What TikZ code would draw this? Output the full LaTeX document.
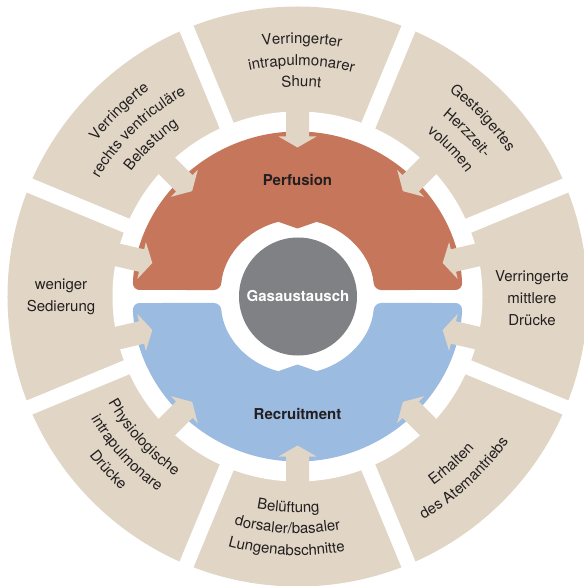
\documentclass[tikz,border=0pt]{standalone}
\usepackage{fontspec}
\setmainfont{TeX Gyre Heros}
\usetikzlibrary{decorations.text}
\definecolor{ringBeige}{RGB}{225,214,197}
\definecolor{perfRed}{RGB}{198,118,90}
\definecolor{recruitBlue}{RGB}{156,187,224}
\definecolor{coreGrey}{RGB}{128,129,133}
\definecolor{inkDark}{RGB}{35,31,32}

\begin{document}
\fontsize{15bp}{22bp}\selectfont
\begin{tikzpicture}[
    x=1bp, y=1bp,
    segtext/.style={text=inkDark, align=center, inner sep=0pt},
    hubtitle/.style={text=inkDark, font=\bfseries},
    arctext/.style={decorate, decoration={text along path, text align=center, text color=inkDark, text/.expanded=#1}},
    blockarrow/.style={fill=ringBeige, rotate=#1}
]
    \useasboundingbox (-297.5,-289.5) rectangle (286.5,296.5);

    % outer ring, split into eight sectors
    \fill[ringBeige] (0,0) circle[radius=290];
    \fill[white] (0,0) circle[radius=185];
    \foreach \a in {22.5,67.5,...,337.5}
        \draw[white, line width=15bp] (0,0) -- (\a:300);

    % the two half rings around the hub
    \foreach \s/\c in {1/perfRed,-1/recruitBlue} {
        \fill[\c, yscale=\s, rounded corners=7bp]
            (2.26:165) arc[start angle=2.26, end angle=177.74, radius=165]
            -- (175.16:77) arc[start angle=175.16, end angle=4.84, radius=77] -- cycle;
        \fill[\c, yscale=\s] (104.29:77) -- (0,68) -- (75.71:77) -- (0,85) -- cycle;
    }

    \foreach \a in {90,45,135,13,167,-13,193,225,270,315}
        \fill[blockarrow=\a] (195,11.5) -- (160,11.5) -- (160,19) -- (149,0)
            -- (160,-19) -- (160,-11.5) -- (195,-11.5) -- cycle;

    \node[circle, fill=coreGrey, minimum size=118bp, inner sep=0pt, text=white, font=\bfseries] (core) at (0.5,0) {Gasaustausch};
    \node[hubtitle] (perfusion) at (0,116.5) {Perfusion};
    \node[hubtitle] (recruitment) at (0,-117.5) {Recruitment};

    \node[segtext] (sedation) at (-236.5,-0.5) {weniger\\Sedierung};
    \node[segtext] (pressures) at (234.5,-1.5) {Verringerte\\mittlere\\Drücke};

    % sector texts bent along the ring
    \foreach \a/\r/\t in {89/253/Verringerter, 89/231/intrapulmonarer, 89/210/Shunt,
            134/254/Verringerte, 134/231/rechts ventriculäre, 134/208/Belastung,
            44/255/Gesteigertes, 44/232/Herzzeit-, 44/209/volumen}
        \path[arctext=\t] ({\a+40}:\r) arc[start angle=\a+40, end angle=\a-40, radius=\r];
    \foreach \a/\r/\t in {267.5/216/Belüftung, 267.5/237/{dorsaler/basaler}, 267.5/259/Lungenabschnitte,
            222.5/217/Physiologische, 222.5/240/intrapulmonare, 222.5/262/Drücke,
            312.5/233/Erhalten, 312.5/256/des Atemantriebs}
        \path[arctext=\t] ({\a-40}:\r) arc[start angle=\a-40, end angle=\a+40, radius=\r];
\end{tikzpicture}
\end{document}
